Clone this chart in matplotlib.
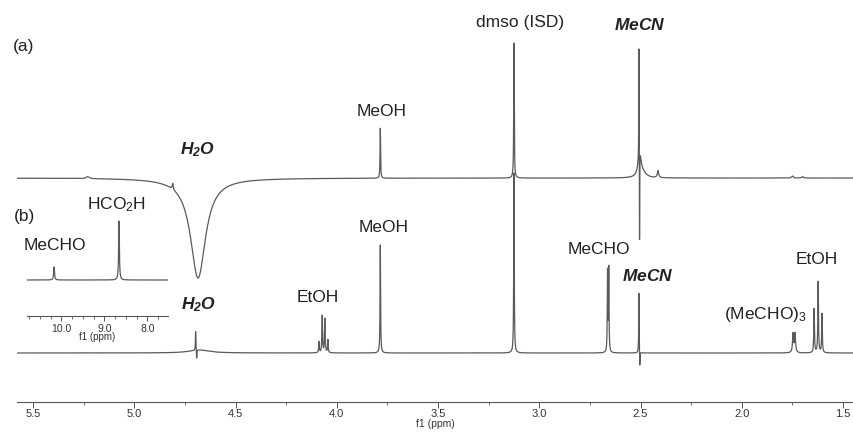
import numpy as np
import matplotlib
matplotlib.use("Agg")
import matplotlib.pyplot as plt
from matplotlib.ticker import MultipleLocator, FormatStrFormatter

plt.rcParams["font.family"] = ["Liberation Sans", "DejaVu Sans"]
plt.rcParams["mathtext.fontset"] = "custom"
plt.rcParams["mathtext.rm"] = "Liberation Sans"
plt.rcParams["mathtext.it"] = "Liberation Sans:italic"
plt.rcParams["mathtext.bf"] = "Liberation Sans:bold"
plt.rcParams["mathtext.bfit"] = "Liberation Sans:bold:italic"

# spectrum (a): peak positions (ppm), heights (a.u.), half widths (ppm)
ppm_a = [5.23, 4.81, 4.685, 3.785, 3.125, 2.508, 2.505, 2.49, 2.505, 2.414, 1.75, 1.70]
h_a = [2, 6, -100, 50, 135, 110, 26, 5, -98, 7, 2, 1.5]
w_a = [0.01, 0.003, 0.045, 0.0015, 0.0015, 0.0008, 0.008, 0.02, 0.0008, 0.004, 0.005, 0.004]

# spectrum (b)
ppm_b = [4.697, 4.692, 4.68, 4.088, 4.072, 4.059, 4.044, 3.785, 3.125,
         2.663, 2.657, 2.508, 2.504, 1.747, 1.737, 1.643, 1.623, 1.604]
h_b = [19, -9, 3, 11, 37, 34, 13, 108, 180,
       80, 83, 61, -17, 19, 19, 44, 71, 39]
w_b = [0.0012, 0.0012, 0.06, 0.0018, 0.0018, 0.0018, 0.0018, 0.0015, 0.0015,
       0.0015, 0.0015, 0.0012, 0.0012, 0.003, 0.003, 0.0018, 0.0018, 0.0018]

# inset of (b), downfield region
ppm_in = [10.17, 8.66]
h_in = [13, 59]
w_in = [0.012, 0.01]

offset_a = 175


def spectrum(x, pos, hgt, wid):
    y = np.zeros_like(x)
    for p, h, w in zip(pos, hgt, wid):
        y += h * w ** 2 / ((x - p) ** 2 + w ** 2)
    return y


W, H = 854, 432
fig = plt.figure(figsize=(W / 100, H / 100), dpi=100)
ax = fig.add_axes([17 / W, 30 / H, 837 / W, 402 / H])

x = np.linspace(5.58, 1.44, 60000)
line_c = "#5a5a5a"
ax.plot(x, spectrum(x, ppm_a, h_a, w_a) + offset_a, color=line_c, lw=0.9)
ax.plot(x, spectrum(x, ppm_b, h_b, w_b), color=line_c, lw=0.9)

ax.set_xlim(5.579, 1.446)
ax.set_ylim(-49, 353)
for s in ["top", "right", "left"]:
    ax.spines[s].set_visible(False)
ax.spines["bottom"].set_color("#555555")
ax.spines["bottom"].set_linewidth(0.8)
ax.set_yticks([])
ax.xaxis.set_major_locator(MultipleLocator(0.5))
ax.xaxis.set_minor_locator(MultipleLocator(0.25))
ax.xaxis.set_major_formatter(FormatStrFormatter("%.1f"))
ax.tick_params(axis="x", which="major", length=4, width=0.7, color="#555555",
               labelsize=8, pad=1, labelcolor="#333333")
ax.tick_params(axis="x", which="minor", length=2.5, width=0.6, color="#555555")
ax.set_xlabel("f1 (ppm)", fontsize=7.5, labelpad=0, color="#333333")

fs = 12.5
tc = "#222222"
labels = [
    ("(a)", 5.549, 306),
    ("MeOH", 3.78, 241),
    ("dmso (ISD)", 3.095, 331),
    ("(b)", 5.54, 136),
    ("HCO$_2$H", 5.085, 148),
    ("MeCHO", 5.39, 108),
    ("EtOH", 4.093, 55),
    ("MeOH", 3.77, 126),
    ("MeCHO", 2.705, 103),
    ("(MeCHO)$_3$", 1.885, 39),
    ("EtOH", 1.628, 93),
]
for txt, lx, ly in labels:
    ax.text(lx, ly, txt, fontsize=fs, color=tc, ha="center", va="center")

bold_labels = [
    (r"$\mathbfit{H_2O}$", 4.685, 203),
    (r"$\mathbfit{MeCN}$", 2.502, 328),
    (r"$\mathbfit{H_2O}$", 4.68, 48),
    (r"$\mathbfit{MeCN}$", 2.463, 77),
]
for txt, lx, ly in bold_labels:
    ax.text(lx, ly, txt, fontsize=fs, color=tc, ha="center", va="center")

# inset axes
axi = fig.add_axes([27 / W, (H - 316) / H, 141 / W, 116 / H])
axi.patch.set_alpha(0)
xi = np.linspace(10.80, 7.52, 10000)
axi.plot(xi, spectrum(xi, ppm_in, h_in, w_in), color=line_c, lw=0.9)
axi.set_xlim(10.80, 7.52)
axi.set_ylim(-36, 80)
for s in ["top", "right", "left"]:
    axi.spines[s].set_visible(False)
axi.spines["bottom"].set_color("#555555")
axi.spines["bottom"].set_linewidth(0.8)
axi.set_yticks([])
axi.xaxis.set_major_locator(MultipleLocator(1.0))
axi.xaxis.set_minor_locator(MultipleLocator(0.25))
axi.xaxis.set_major_formatter(FormatStrFormatter("%.1f"))
axi.tick_params(axis="x", which="major", length=3.5, width=0.7, color="#555555",
                labelsize=7.5, pad=2, labelcolor="#333333")
axi.tick_params(axis="x", which="minor", length=2, width=0.6, color="#555555")
axi.set_xlabel("f1 (ppm)", fontsize=7, labelpad=-1, color="#333333")

fig.savefig("out.png", dpi=100)
